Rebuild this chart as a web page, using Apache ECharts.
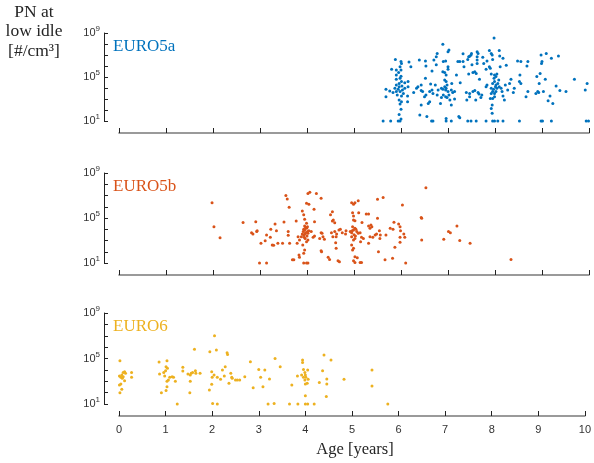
<!DOCTYPE html>
<html>
<head>
<meta charset="utf-8">
<script src="https://cdn.jsdelivr.net/npm/echarts@6/dist/echarts.min.js"></script>
<style>
  html, body { margin: 0; padding: 0; background: #fff; }
  #chart { width: 594px; height: 463px; }
</style>
</head>
<body>
<div id="chart"></div>
<script>
// Particle number at low idle vs vehicle age, split by emission class.
// Each point: [age in years, PN in #/cm3]
const ageTicks = [0, 1, 2, 3, 4, 5, 6, 7, 8, 9, 10];
const classNames = ['EURO5a', 'EURO5b', 'EURO6'];
const classColors = ['#0072BD', '#D95319', '#EDB120'];

const euro5a = [
  [5.62,10],[5.78,10],[5.94,10],[5.98,10],[6.65,10],[6.68,10],[6.96,10],[7.07,10],[7.42,10],[7.49,10],
  [7.6,10],[7.81,10],[7.95,10],[7.99,10],[8.06,10],[8.17,10],[8.52,10],[8.98,10],[9.01,10],[9.2,10],
  [9.94,10],[9.99,10],[6.0,15],[6.96,17],[7.23,25],[7.25,20],
  [5.68,7.6e3],[5.68,1.6e3],[5.76,5.4e3],[5.80,5.0e5],[5.83,3.8e3],[5.88,4.0e6],[6.0,115],[5.96,40],
  [5.98,355],[6.01,575],[5.96,800],[5.92,2.3e3],[6.01,1.9e3],[6.14,1.9e3],[6.14,575],[5.9,4.7e3],
  [5.98,4.7e3],[6.05,3.2e3],[5.87,9.3e3],[5.94,7.6e3],[6.03,6.6e3],[5.9,1.9e4],[5.96,1.3e4],[6.02,1.5e4],
  [6.08,9.3e3],[6.15,1.3e4],[5.9,6.2e4],[5.98,7.6e4],[6.01,3.8e4],[5.96,2.6e4],[6.08,3.0e4],[6.15,3.8e4],
  [5.9,1.5e5],[6.0,1.2e5],[5.95,2.5e5],[5.9,4.4e5],[6.0,4.4e5],[5.98,8.7e5],[6.01,1.7e6],[6.0,2.5e6],
  [6.17,2.3e6],[6.21,8.7e5],[6.27,3.8e3],[6.33,9.3e3],[6.36,1.3e4],[6.39,3.5e6],[6.43,1.9e4],[6.43,5.8e3],
  [6.46,4.7e3],[6.40,35],[6.43,280],[6.52,2.8e6],[6.53,1.0e6],[6.52,7.6e4],[6.53,2.3e3],[6.5,1.6e3],
  [6.55,25],[6.58,400],[6.61,575],[6.61,4.7e3],[6.63,2.3e4],[6.66,3.5e5],[6.66,6.6e3],[6.68,3.2e3],
  [6.7,3.5e6],[6.75,7.1e6],[6.77,1.4e7],[6.73,1.9e4],[6.75,1.3e6],[6.77,2.3e3],[6.79,6.6e3],[6.84,400],
  [6.86,1.4e3],[6.89,9.3e7],[6.86,9.3e3],[6.89,7.6e3],[6.93,1.3e4],[6.95,6.6e3],[6.96,9.3e3],[6.89,3.0e5],
  [6.93,2.5e5],[6.96,1.5e5],[6.9,2.5e6],[6.95,2.8e6],[6.93,5.4e4],[6.96,3.8e4],[6.98,1.9e4],[6.9,2.3e3],
  [6.95,1.6e3],[6.98,1.4e3],[7.0,2.0e7],[7.02,2.8e7],[7.0,8.7e5],[7.0,5.0e5],[7.0,4.7e3],[7.02,2.3e3],
  [7.04,800],[7.07,280],[7.07,6.6e3],[7.1,3.8e3],[7.14,4.7e3],[7.14,1.0e3],[7.08,2.6e4],[7.18,1.5e5],
  [7.21,2.5e6],[7.25,2.5e6],[7.26,3.0e4],[7.32,1.3e7],[7.32,2.5e6],[7.34,8.7e5],[7.39,3.8e3],[7.4,800],
  [7.42,4.0e6],[7.44,7.1e6],[7.46,7.9e6],[7.44,1.9e5],[7.46,3.2e3],[7.46,1.6e3],[7.49,1.0e7],[7.5,1.4e7],
  [7.51,1.3e6],[7.53,4.7e3],[7.57,5.8e3],[7.53,2.5e5],[7.57,3.0e5],[7.6,2.1e5],[7.59,800],[7.62,2.0e7],
  [7.64,1.4e7],[7.62,7.1e6],[7.62,3.5e6],[7.62,1.7e6],[7.64,3.8e3],[7.66,2.8e3],[7.67,6.2e4],[7.7,1.4e3],
  [7.72,2.3e3],[7.74,6.2e6],[7.76,1.7e6],[7.81,1.3e4],[7.83,1.9e4],[7.81,5.0e5],[7.83,2.8e6],[7.88,2.5e7],
  [7.88,8.7e5],[7.9,6.2e5],[7.92,1.4e7],[7.94,1.0e7],[7.92,1.9e5],[7.95,4.0e6],[7.94,280],[7.92,140],
  [7.94,50],[7.9,1.1e3],[7.95,1.1e3],[7.99,1.6e3],[7.92,3.2e3],[7.95,4.7e3],[7.99,3.2e3],[8.02,4.7e3],
  [7.92,9.3e3],[7.97,7.6e3],[8.01,1.3e4],[8.04,9.3e3],[7.95,2.6e4],[7.99,3.8e4],[8.02,1.9e4],[8.06,2.6e4],
  [7.98,7.6e4],[8.02,1.1e5],[8.08,5.4e4],[7.99,1.5e5],[8.04,1.9e5],[7.98,3.5e8],[8.09,2.5e7],[8.1,8.1e6],
  [8.11,8.7e5],[8.17,5.0e6],[8.09,1.3e4],[8.13,9.3e3],[8.15,4.7e3],[8.17,1.9e3],[8.2,800],[8.24,1.2e6],
  [8.22,1.9e4],[8.31,2.6e4],[8.27,6.6e3],[8.34,6.2e4],[8.39,3.8e3],[8.41,9.3e3],[8.48,2.8e6],[8.52,3.8e4],
  [8.53,1.5e5],[8.55,2.6e4],[8.55,2.5e6],[8.66,1.6e3],[8.7,4.7e3],[8.68,1.0e6],[8.7,2.5e6],[8.87,3.2e3],
  [8.91,4.7e3],[8.93,3.8e3],[8.89,1.1e5],[8.94,2.6e4],[8.96,2.1e5],[8.98,1.0e7],[8.99,1.7e6],[9.0,2.5e6],
  [9.03,4.7e3],[9.07,6.2e4],[9.09,1.4e7],[9.13,710],[9.17,1.9e3],[9.2,5.0e6],[9.23,400],[9.3,1.5e4],
  [9.35,8.1e6],[9.38,5.8e3],[9.51,4.7e3],[9.69,6.2e4],[9.92,6.6e3],[9.96,2.6e4]
];

const euro5b = [
  [1.98,2.3e6],[2.02,1.7e4],[2.15,1.8e3],[2.64,3.9e4],[2.91,4.7e4],[2.94,7.4e3],[2.93,6.2e3],[2.82,5.0e3],
  [2.85,3.8e3],[3.02,560],[2.99,10],[3.14,10],[3.11,950],[3.14,3.1e3],[3.23,9.8e3],[3.22,1.9e3],
  [3.26,400],[3.29,370],[3.32,3.0e4],[3.35,7.4e3],[3.38,560],[3.48,560],[3.51,4.4e4],[3.55,1.0e7],
  [3.58,4.9e6],[3.6,6.2e3],[3.6,2.9e3],[3.62,8.9e5],[3.63,560],[3.69,19],[3.72,19],[3.77,5.4e4],
  [3.81,2.2e3],[3.79,560],[3.84,32],[3.83,51],[3.88,2.2e3],[3.84,1.1e3],[3.9,4.2e5],[3.93,1.9e5],
  [3.93,10],[3.99,10],[4.02,10],[3.91,400],[3.95,145],[3.93,72],
  [3.92,6.2e3],[3.95,8.5e3],[3.99,1.2e4],[3.97,5.0e3],[4.02,4.4e3],[4.0,2.5e3],[3.93,3.1e3],[3.96,1.5e3],
  [4.01,1.7e4],[3.95,1.9e4],[3.99,3.4e4],[4.02,1.1e3],[4.04,7.4e3],[3.9,3.8e3],[3.99,790],[3.93,9.8e3],
  [3.96,3.8e3],[4.01,6.2e3],[3.94,1.9e3],[3.97,1.4e4],
  [3.95,7.6e4],[3.99,2.0e6],[4.02,1.5e7],[4.06,1.9e7],[4.04,1.7e6],[4.15,5.9e5],[4.2,1.5e7],[4.09,6.2e3],
  [4.13,1.9e3],[4.16,2.5e3],[4.16,4.7e4],[4.27,1.5e3],[4.3,5.0e3],[4.3,5.6e6],[4.3,120],[4.45,32],
  [4.48,21],[4.5,1.9e5],[4.54,3.6e5],[4.54,5.4e4],[4.59,3.8e4],[4.52,5.0e3],[4.55,2.2e3],[4.59,6.2e3],
  [4.62,2.2e3],[4.61,630],[4.62,200],[4.66,16],[4.68,8.5e3],[4.75,5.0e3],[4.82,3.8e3],
  [4.32,4.4e3],[4.34,2.2e3],[4.37,1.3e3],[4.31,100],[4.63,3.8e3],[4.71,9.8e3],[4.83,7.4e3],[4.69,13],[4.56,6.6e4],
  [4.95,2.3e6],[4.99,1.7e6],[5.02,2.3e6],[5.09,3.5e6],[4.97,3.0e5],[4.99,1.5e5],[5.1,3.0e5],
  [4.99,6.6e4],[5.02,5.8e4],[5.17,3.9e4],
  [4.92,6.2e3],[4.95,5.0e3],[4.99,8.5e3],[5.02,1.2e4],[5.06,6.2e3],[5.09,4.4e3],[5.13,5.0e3],[4.97,1.7e4],
  [4.95,2.2e3],[4.99,1.1e3],[5.02,1.5e3],[5.16,1.9e3],[5.2,1.5e3],[5.14,790],
  [4.95,400],[4.99,200],[4.97,145],[5.02,36],[5.07,30],[4.99,16],[5.02,11],[5.13,11],[5.16,11],
  [5.0,3.2e3],[5.04,9.8e3],[4.96,7.4e3],[5.03,2.5e3],
  [5.26,2.3e5],[5.31,2.3e5],[5.31,1.9e4],[5.34,1.2e4],[5.38,1.7e4],[5.36,2.4e4],[5.31,560],
  [5.34,2.2e3],[5.4,1.9e3],[5.45,3.1e3],[5.48,3.8e3],[5.5,4.6e6],[5.5,9.3e4],[5.52,100],
  [5.54,7.4e3],[5.55,1.5e3],[5.56,3.1e3],[5.62,6.5e6],[5.66,19],[5.82,26],[5.68,3.1e3],
  [5.77,1.2e4],[5.83,9.8e3],[5.85,4.1e4],[5.87,245],[5.95,3.0e4],[5.98,1.7e4],[5.99,7.4e3],
  [5.98,1.9e3],[5.98,690],[6.03,1.4e6],[6.06,3.8e3],[6.08,1.9e3],[6.1,10],
  [6.43,1.1e5],[6.44,9.3e4],[6.44,1.1e3],[6.53,5.0e7],[6.91,1.3e3],[7.01,6.2e3],[7.05,5.0e3],
  [7.19,1.9e4],[7.25,980],[7.47,560],[8.34,21]
];

const euro6 = [
  [0.02,6.5e4],[0.01,2.9e3],[0.04,2.2e3],[0.06,3.5e3],[0.07,1.8e3],[0.09,2.5e3],[0.09,5.8e3],[0.12,6.9e3],
  [0.14,5.0e3],[0.12,1.1e3],[0.01,470],[0.04,575],[0.06,195],[0.02,100],[0.27,5.8e3],[0.27,2.2e3],
  [0.86,5.0e4],[0.87,4.4e3],[0.96,5.8e3],[0.91,100],[0.98,2.9e3],[1.0,8.5e3],[1.01,150],[1.03,330],
  [1.03,6.5e4],[1.01,1.9e4],[1.04,1.4e4],[1.03,1.0e3],[1.06,1.3e3],[1.09,2.2e3],[1.14,2.5e3],[1.17,2.2e3],
  [1.21,1.0e3],[1.25,10],[1.37,1.7e4],[1.37,7.9e3],[1.52,100],
  [1.48,4.4e3],[1.53,3.5e3],[1.55,5.0e3],[1.58,5.8e3],[1.64,8.5e3],[1.65,5.0e3],[1.74,5.0e3],
  [1.53,1.0e3],[1.62,6.5e5],[1.94,170],[1.95,4.0e5],[1.99,6.9e3],[2.0,2.2e3],[2.04,3.5e3],
  [2.01,11],[2.11,10],[2.05,1.0e7],[2.09,5.6e5],[1.99,540],
  [2.11,2.2e3],[2.18,1.5e3],[2.22,9.8e3],[2.28,1.9e4],[2.26,2.9e3],[2.32,3.2e5],[2.33,2.3e5],
  [2.36,660],[2.4,5.0e3],[2.42,2.2e3],[2.43,1.8e3],[2.5,1.3e3],[2.54,1.3e3],[2.59,1.3e3],[2.7,2.5e3],
  [2.82,5.2e4],[2.88,275],[3.0,1.1e4],[3.04,2.2e3],[3.09,330],[3.13,9.8e3],[3.2,10],[3.33,11],
  [3.23,1.6e3],[3.35,9.8e4],[3.46,1.9e4],[3.66,10],[3.84,10],[3.71,470],[3.83,2.9e3],
  [3.94,7.4e4],[3.94,4.4e4],[3.96,1.1e4],[3.99,5.8e3],[4.0,3.5e3],[4.01,2.2e3],[3.99,1.3e3],[4.0,575],
  [4.04,660],[3.92,3.5e3],[3.96,2.2e3],[4.05,9.8e3],[4.06,1.5e3],[4.0,54],[4.0,10],[4.05,10],[4.19,10],
  [4.3,760],[4.37,8.5e3],[4.4,2.0e5],[4.45,45],[4.46,1.6e3],[4.46,575],[4.55,7.4e4],[4.83,1.5e3],
  [5.43,9.8e3],[5.43,380],[5.77,10]
];

const seriesData = [euro5a, euro5b, euro6];

const gridTops = [33, 173, 313];
const gridHeights = [88, 90, 91];

const sansFont = 'Liberation Sans, Arial, sans-serif';
const serifFont = 'Liberation Serif, Times New Roman, serif';

const grids = [], xAxes = [], yAxes = [], series = [];
seriesData.forEach((data, i) => {
  const last = i === seriesData.length - 1;
  grids.push({ left: 119, right: 5, top: gridTops[i], height: gridHeights[i] });
  xAxes.push({
    gridIndex: i, type: 'value', min: 0, max: 10, interval: 1,
    position: 'bottom', offset: 12,
    axisLine: { show: true, onZero: false, lineStyle: { color: '#7a7a7a', width: 1.6 } },
    axisTick: { show: true, inside: true, length: 5, lineStyle: { color: '#222', width: 1 } },
    axisLabel: {
      show: last, color: '#333', fontFamily: sansFont, fontSize: 11, margin: 8,
      formatter: v => ageTicks.includes(v) ? String(v) : ''
    },
    splitLine: { show: false }
  });
  yAxes.push({
    gridIndex: i, type: 'log', logBase: 10, min: 10, max: 1e9, splitNumber: 8,
    position: 'left', offset: 15,
    axisLine: { show: true, onZero: false, lineStyle: { color: '#222', width: 1 } },
    axisTick: { show: true, inside: true, length: 4, lineStyle: { color: '#222', width: 1 } },
    axisLabel: {
      color: '#333', fontFamily: sansFont, fontSize: 11, margin: 4,
      formatter: v => {
        const e = Math.round(Math.log10(v));
        return (e === 1 || e === 5 || e === 9) ? '10{s|' + e + '}' : '';
      },
      rich: { s: { fontSize: 8, fontFamily: sansFont, color: '#333', padding: [0, 0, 8, 0] } }
    },
    splitLine: { show: false }
  });
  series.push({
    type: 'scatter', xAxisIndex: i, yAxisIndex: i, data: data,
    symbol: 'circle', symbolSize: 3,
    itemStyle: { color: classColors[i], opacity: 1 },
    silent: true, animation: false
  });
});

const textStyle = (t, x, y, color, size, align) => ({
  type: 'text', x: x, y: y, silent: true,
  style: { text: t, fill: color, font: size + 'px ' + serifFont, textAlign: align || 'left', textVerticalAlign: 'middle' }
});

const graphics = [
  textStyle('PN at', 34, 12, '#262626', 17.5, 'center'),
  textStyle('low idle', 34, 31, '#262626', 17.5, 'center'),
  textStyle('[#/cm³]', 34, 51, '#262626', 17.5, 'center'),
  textStyle('Age [years]', 355, 450, '#262626', 16.5, 'center')
];
classNames.forEach((n, i) => graphics.push(textStyle(n, 113, gridTops[i] + 14, classColors[i], 17, 'left')));

const chart = echarts.init(document.getElementById('chart'), null, { renderer: 'canvas' });
chart.setOption({
  backgroundColor: '#fff',
  animation: false,
  grid: grids,
  xAxis: xAxes,
  yAxis: yAxes,
  series: series,
  graphic: graphics
});
</script>
</body>
</html>
